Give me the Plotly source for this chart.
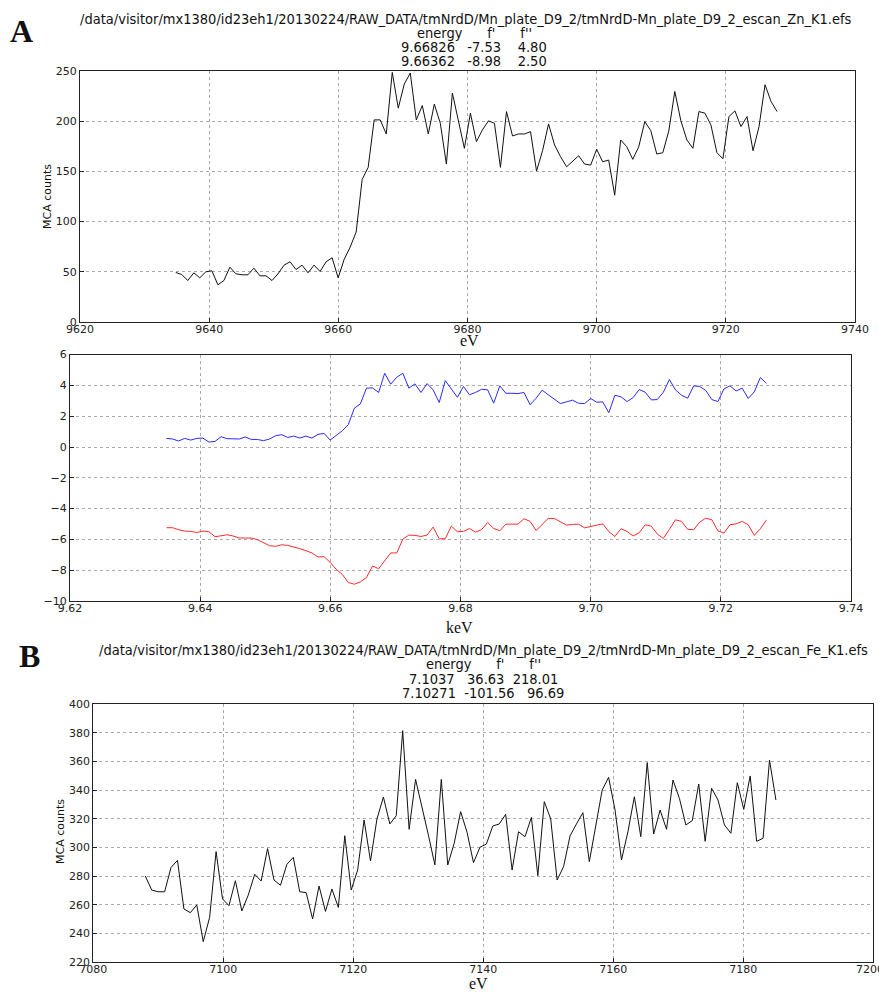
import plotly.graph_objects as go

# ---------------- data ----------------
zn_energy_ev = [
    9634.83, 9635.76, 9636.69, 9637.62, 9638.55, 9639.49, 9640.42, 9641.35, 9642.28, 9643.21,
    9644.14, 9645.07, 9646.00, 9646.93, 9647.86, 9648.80, 9649.73, 9650.66, 9651.59, 9652.52,
    9653.45, 9654.38, 9655.31, 9656.24, 9657.17, 9658.11, 9659.04, 9659.97, 9660.90, 9661.83,
    9662.76, 9663.69, 9664.62, 9665.55, 9666.48, 9667.42, 9668.35, 9669.28, 9670.21, 9671.14,
    9672.07, 9673.00, 9673.93, 9674.86, 9675.79, 9676.73, 9677.66, 9678.59, 9679.52, 9680.45,
    9681.38, 9682.31, 9683.24, 9684.17, 9685.10, 9686.04, 9686.97, 9687.90, 9688.83, 9689.76,
    9690.69, 9691.62, 9692.55, 9693.48, 9694.41, 9695.35, 9696.28, 9697.21, 9698.14, 9699.07,
    9700.00, 9700.93, 9701.86, 9702.79, 9703.72, 9704.66, 9705.59, 9706.52, 9707.45, 9708.38,
    9709.31, 9710.24, 9711.17, 9712.10, 9713.03, 9713.97, 9714.90, 9715.83, 9716.76, 9717.69,
    9718.62, 9719.55, 9720.48, 9721.41, 9722.34, 9723.28, 9724.21, 9725.14, 9726.07, 9727.00,
    9727.93,
]
zn_counts = [
    49.3, 47.3, 41.3, 49, 44, 50, 51, 37, 41.3, 54.6,
    48, 47, 47, 53.6, 46, 46, 41.3, 48, 56.6, 60,
    52.3, 56.6, 49, 56.6, 50.3, 60, 64, 44, 62.3, 74.6,
    89.6, 142, 154, 201.3, 201.3, 187.3, 248.6, 213, 237, 248,
    201.3, 215.6, 187.3, 217, 198, 157.3, 228, 201.3, 173, 208,
    179.6, 191.3, 200.3, 198, 154, 209.6, 185.3, 187.3, 187.3, 189.6,
    150.3, 170.6, 197.3, 176.3, 164.6, 154.6, 160.3, 165.6, 157.3, 156.3,
    172, 159.6, 161.3, 126.3, 181.3, 174.6, 162, 174.6, 199.6, 190.6,
    167.3, 168.6, 190.3, 229.6, 200.6, 181.3, 173, 209.6, 208, 196.3,
    168.6, 162.6, 204.6, 210.3, 194.6, 204.6, 170.6, 194.6, 236.3, 219.6,
    209.6,
]
zn_fpp = [
    0.56, 0.52, 0.39, 0.56, 0.45, 0.56, 0.58, 0.32, 0.36, 0.67,
    0.54, 0.52, 0.52, 0.65, 0.49, 0.49, 0.41, 0.52, 0.73, 0.80,
    0.62, 0.71, 0.58, 0.71, 0.58, 0.82, 0.88, 0.45, 0.77, 1.05,
    1.46, 2.52, 2.80, 3.82, 3.84, 3.54, 4.79, 4.08, 4.53, 4.79,
    3.82, 4.10, 3.54, 4.12, 3.71, 2.89, 4.31, 3.75, 3.23, 3.93,
    3.39, 3.54, 3.75, 3.71, 2.85, 3.97, 3.49, 3.49, 3.47, 3.54,
    2.74, 3.17, 3.69, 3.39, 3.11, 2.82, 2.93, 3.04, 2.84, 2.82,
    3.15, 2.91, 2.93, 2.22, 3.36, 3.26, 2.95, 3.21, 3.73, 3.56,
    3.06, 3.08, 3.56, 4.38, 3.71, 3.36, 3.17, 3.97, 3.93, 3.67,
    3.08, 2.95, 3.77, 3.97, 3.64, 3.82, 3.15, 3.58, 4.51, 4.14,
]
zn_fp = [
    -5.24, -5.24, -5.37, -5.46, -5.48, -5.55, -5.46, -5.50, -5.83, -5.78,
    -5.70, -5.78, -5.91, -5.91, -5.91, -6.02, -6.19, -6.41, -6.45, -6.35,
    -6.39, -6.48, -6.60, -6.73, -6.88, -7.14, -7.12, -7.49, -7.94, -8.27,
    -8.80, -8.91, -8.76, -8.48, -7.73, -7.90, -7.40, -6.88, -6.88, -5.98,
    -5.72, -5.74, -5.81, -5.72, -5.20, -5.96, -5.96, -5.14, -5.50, -5.48,
    -5.29, -5.53, -5.37, -4.90, -5.29, -5.44, -5.01, -5.03, -5.01, -4.66,
    -4.83, -5.42, -5.05, -4.64, -4.64, -4.86, -5.07, -5.03, -5.01, -5.25,
    -5.16, -5.05, -4.99, -5.50, -5.81, -5.31, -5.48, -5.78, -5.57, -5.05,
    -5.14, -5.65, -5.94, -5.35, -4.73, -4.83, -5.35, -5.37, -4.88, -4.62,
    -4.73, -5.44, -5.59, -5.05, -4.99, -4.83, -5.05, -5.74, -5.31, -4.75,
]
zn_energy_kev = [e / 1000.0 for e in zn_energy_ev[:len(zn_fp)]]

fe_energy_ev = [
    7088.00, 7088.99, 7089.98, 7090.97, 7091.96, 7092.95, 7093.94, 7094.93, 7095.92, 7096.91,
    7097.90, 7098.89, 7099.88, 7100.87, 7101.86, 7102.85, 7103.84, 7104.83, 7105.82, 7106.81,
    7107.80, 7108.79, 7109.78, 7110.77, 7111.76, 7112.75, 7113.74, 7114.73, 7115.72, 7116.71,
    7117.70, 7118.69, 7119.68, 7120.67, 7121.66, 7122.65, 7123.64, 7124.63, 7125.62, 7126.61,
    7127.60, 7128.59, 7129.58, 7130.57, 7131.56, 7132.55, 7133.54, 7134.53, 7135.52, 7136.51,
    7137.50, 7138.49, 7139.48, 7140.47, 7141.46, 7142.45, 7143.44, 7144.43, 7145.42, 7146.41,
    7147.40, 7148.39, 7149.38, 7150.37, 7151.36, 7152.35, 7153.34, 7154.33, 7155.32, 7156.31,
    7157.30, 7158.29, 7159.28, 7160.27, 7161.26, 7162.25, 7163.24, 7164.23, 7165.22, 7166.21,
    7167.20, 7168.19, 7169.18, 7170.17, 7171.16, 7172.15, 7173.14, 7174.13, 7175.12, 7176.11,
    7177.10, 7178.09, 7179.08, 7180.07, 7181.06, 7182.05, 7183.04, 7184.03, 7185.02,
]
fe_counts = [
    280, 270.2, 269, 269, 286, 290.9, 257, 254.4, 259.8, 234.2,
    251.2, 297, 264, 259.3, 276.7, 255.6, 266.7, 281.2, 276.5, 299.1,
    277.2, 273.5, 288.1, 293, 269, 268.4, 250, 273, 255.3, 270.9,
    258.1, 308.1, 270.2, 284.2, 319.1, 290.5, 319.8, 335.1, 316.3, 322.1,
    381.4, 312.6, 347.4, 328.4, 308.4, 287.7, 347.4, 287.7, 302.8, 324.9,
    310.5, 289.3, 300, 302.3, 314.9, 316.3, 323, 284.2, 310.9, 307.4,
    320.9, 280.2, 331.9, 319.8, 277.2, 286.5, 307.9, 316.3, 324.2, 290,
    315.6, 340, 348.8, 326, 291.2, 310.9, 335.3, 307.4, 359.1, 309.3,
    326, 312.6, 347, 334.2, 315.6, 318.6, 344.2, 304.2, 341.2, 333,
    315.6, 309.8, 345.1, 326.5, 349.8, 304.2, 306.3, 360.9, 333,
]
fe_xticks = [7080, 7100, 7120, 7140, 7160, 7180, 7200]

title_a = [
    "/data/visitor/mx1380/id23eh1/20130224/RAW_DATA/tmNrdD/Mn_plate_D9_2/tmNrdD-Mn_plate_D9_2_escan_Zn_K1.efs",
    "energy      f'      f''",
    "9.66826   -7.53    4.80",
    "9.66362   -8.98    2.50",
]
title_b = [
    "/data/visitor/mx1380/id23eh1/20130224/RAW_DATA/tmNrdD/Mn_plate_D9_2/tmNrdD-Mn_plate_D9_2_escan_Fe_K1.efs",
    "energy      f'      f''",
    "7.1037   36.63  218.01",
    "7.10271  -101.56   96.69",
]

# ---------------- layout helpers ----------------
# the page body adds an 8 px margin at top/left; the figure is sized to end
# at the window's right and bottom edges, and target pixel positions are
# shifted by that offset
OFF = 8
W, H = 887 - OFF, 992 - OFF
def fx(px):
    return (px - OFF) / W
def fy(py):
    return 1 - (py - OFF) / H

TICKFONT = dict(family="DejaVu Sans", size=11, color="#222")
TITLEFONT = "DejaVu Sans Condensed, Liberation Sans Narrow, DejaVu Sans"
SERIF = "Liberation Serif, DejaVu Serif"

def axis_common(**kw):
    d = dict(
        showline=True, linecolor="#222", linewidth=1.2, mirror=True,
        showgrid=True, gridcolor="#aaaaaa", gridwidth=1, griddash="dot",
        zeroline=False, ticks="inside", ticklen=4, tickcolor="#222",
        tickfont=TICKFONT, automargin=False, ticklabeloverflow="allow",
    )
    d.update(kw)
    return d

fig = go.Figure()
fig.add_trace(go.Scatter(x=zn_energy_ev, y=zn_counts, mode="lines",
                         line=dict(color="#111", width=1), xaxis="x", yaxis="y",
                         showlegend=False))
fig.add_trace(go.Scatter(x=zn_energy_kev, y=zn_fpp, mode="lines",
                         line=dict(color="#2a2aff", width=1), xaxis="x2", yaxis="y2",
                         showlegend=False))
fig.add_trace(go.Scatter(x=zn_energy_kev, y=zn_fp, mode="lines",
                         line=dict(color="#ff2a2a", width=1), xaxis="x2", yaxis="y2",
                         showlegend=False))
fig.add_trace(go.Scatter(x=fe_energy_ev, y=fe_counts, mode="lines",
                         line=dict(color="#111", width=1), xaxis="x3", yaxis="y3",
                         showlegend=False))

# last x tick label of panel B sits at the window edge: drawn right-aligned
fe_ticktext = [str(v) for v in fe_xticks[:-1]] + [""]

fig.update_layout(
    template="none",
    width=W, height=H, margin=dict(l=0, r=0, t=0, b=0, pad=0, autoexpand=False),
    paper_bgcolor="white", plot_bgcolor="white",
    xaxis=axis_common(domain=[fx(80), fx(855)], range=[9620, 9740], dtick=20,
                      tick0=9620, anchor="y", ticklabelstandoff=-3),
    yaxis=axis_common(domain=[fy(322), fy(71)], range=[0, 250], dtick=50,
                      anchor="x"),
    xaxis2=axis_common(domain=[fx(70), fx(851)], range=[9.62, 9.74], dtick=0.02,
                       tick0=9.62, tickformat=".2f", anchor="y2", ticklabelstandoff=-3),
    yaxis2=axis_common(domain=[fy(601), fy(354.6)], range=[-10, 6], dtick=2,
                       anchor="x2"),
    xaxis3=axis_common(domain=[fx(93.3), fx(873.3)], range=[7080, 7200],
                       tickmode="array", tickvals=fe_xticks, ticktext=fe_ticktext,
                       anchor="y3", ticklabelstandoff=-3),
    yaxis3=axis_common(domain=[fy(962), fy(704)], range=[220, 400], dtick=20,
                       anchor="x3"),
)

ann = []
def text(px, py, s, size, family, **kw):
    d = dict(x=fx(px), y=fy(py), xref="paper", yref="paper", text=s,
             showarrow=False, xanchor="center", yanchor="middle",
             font=dict(size=size, family=family, color="#111"))
    d.update(kw)
    ann.append(d)

# panel letters
text(21, 31, "<b>A</b>", 32, SERIF)
text(29, 656, "<b>B</b>", 32, SERIF)

# titles
for i, s in enumerate(title_a):
    text(466 if i == 0 else 474, 19 + 14 * i, s.replace(" ", "\u00a0"), 14.5, TITLEFONT)
for i, s in enumerate(title_b):
    text(483, 650 + 14.3 * i, s.replace(" ", "\u00a0"), 14.5, TITLEFONT)

# axis labels
text(469, 341, "eV", 16, SERIF)
text(459, 627, "keV", 16, SERIF)
text(478, 983, "eV", 16, SERIF)
text(47, 197, "MCA counts", 11, "DejaVu Sans", textangle=-90)
text(60, 832, "MCA counts", 11, "DejaVu Sans", textangle=-90)

# the 7200 tick label, kept inside the window
ann.append(dict(x=fx(886), y=fy(969), xref="paper", yref="paper",
                text=str(fe_xticks[-1]), showarrow=False, xanchor="right",
                yanchor="middle", font=TICKFONT))

fig.update_layout(annotations=ann)
fig.write_html("out.html")
